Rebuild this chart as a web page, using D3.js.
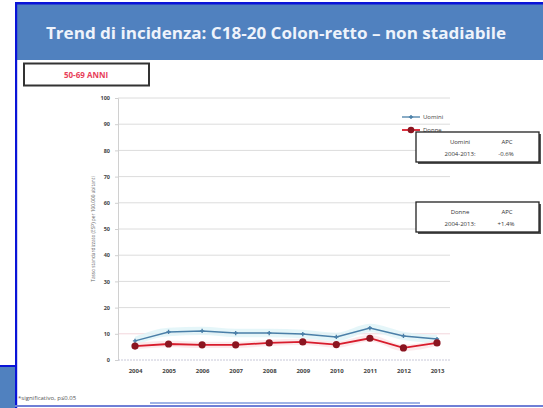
<!DOCTYPE html>
<html><head><meta charset="utf-8">
<script src="https://d3js.org/d3.v7.min.js"></script>
<style>html,body{margin:0;padding:0;background:#fff;}svg{display:block;}</style>
</head><body>
<svg id="c" width="543" height="408"></svg>
<script>
const years = ["2004","2005","2006","2007","2008","2009","2010","2011","2012","2013"];
const uomini = [7.3,10.7,11.1,10.3,10.3,9.9,8.8,12.2,9.2,8.0];
const donne  = [5.3,6.1,5.8,5.8,6.5,6.9,5.9,8.3,4.6,6.5];
const yTicks = [0,10,20,30,40,50,60,70,80,90,100];
const seriesNames = ["Uomini","Donne"];
const apcLabels = ["-0.6%","+1.4%"];

const svg = d3.select("#c");
const W = 543, H = 408;
const font = "'Open Sans', 'DejaVu Sans', sans-serif";

svg.append("rect").attr("x",0).attr("y",0).attr("width",W).attr("height",H).attr("fill","#fff");
svg.append("rect").attr("x",16).attr("y",4).attr("width",W-16).attr("height",56).attr("fill","#5081bf");
svg.append("rect").attr("x",15).attr("y",2).attr("width",W-15).attr("height",2.5).attr("fill","#0a14d8");
svg.append("text").attr("x",276).attr("y",39).attr("text-anchor","middle")
  .attr("fill","#eef3fb").attr("font-family",font).attr("font-weight","bold").attr("font-size",16)
  .attr("textLength",460).attr("lengthAdjust","spacingAndGlyphs")
  .text("Trend di incidenza: C18-20 Colon-retto – non stadiabile");
svg.append("rect").attr("x",0).attr("y",366).attr("width",15).attr("height",H-366).attr("fill","#5081bf");
svg.append("rect").attr("x",0).attr("y",365).attr("width",16).attr("height",2).attr("fill","#0a14d8");
svg.append("rect").attr("x",15).attr("y",2).attr("width",2.2).attr("height",H-2).attr("fill","#0a14d8");
svg.append("rect").attr("x",15).attr("y",405).attr("width",W-15).attr("height",2).attr("fill","#6f7fd6");
svg.append("line").attr("x1",150).attr("x2",420).attr("y1",403).attr("y2",403).attr("stroke","#9fb3e6").attr("stroke-width",2);

svg.append("rect").attr("x",24).attr("y",63.5).attr("width",125).attr("height",22).attr("fill","#fff").attr("stroke","#333").attr("stroke-width",2);
svg.append("text").attr("x",86).attr("y",78).attr("text-anchor","middle").attr("fill","#e8405a")
  .attr("font-family",font).attr("font-weight","bold").attr("font-size",8).text("50-69 ANNI");

const x = d3.scalePoint().domain(years).range([135,437]);
const y = d3.scaleLinear().domain([0,100]).range([360,98]);

const g = svg.append("g");
g.selectAll("line.grid").data(yTicks.filter(d=>d>0)).join("line").attr("class","grid")
  .attr("x1",118).attr("x2",450).attr("y1",d=>y(d)).attr("y2",d=>y(d))
  .attr("stroke",d=>d===10?"#f3d6dc":"#dcdcdc").attr("stroke-width",1);

const yAxis = d3.axisLeft(y).tickValues(yTicks).tickSize(3).tickFormat(d3.format("d"));
const ya = g.append("g").attr("transform","translate(118,0)").call(yAxis);
ya.select(".domain").attr("stroke","#d0d0d0");
ya.selectAll(".tick line").attr("stroke","#d0d0d0");
ya.selectAll(".tick text").attr("font-family",font).attr("font-size",5.5).attr("font-weight","bold").attr("fill","#444").attr("x",-8);

const xAxis = d3.axisBottom(x).tickSize(0).tickPadding(9);
const xa = g.append("g").attr("transform","translate(0,360)").call(xAxis);
xa.select(".domain").attr("d","M118,0H450").attr("stroke","#c8c8d8").attr("stroke-dasharray","2,1");
xa.selectAll(".tick text").attr("font-family",font).attr("font-size",6).attr("font-weight","bold").attr("fill","#444");

svg.append("text").attr("transform","translate(95,229) rotate(-90)").attr("text-anchor","middle")
  .attr("font-family",font).attr("font-size",4.8).attr("fill","#666")
  .text("Tasso standardizzato (ESP) per 100.000 abitanti");

const bandU = d3.area().x((d,i)=>x(years[i])).y0(d=>y(d-1.6)).y1(d=>y(d+1.6)).curve(d3.curveMonotoneX);
const bandD = d3.area().x((d,i)=>x(years[i])).y0(d=>y(d-1.2)).y1(d=>y(d+1.2)).curve(d3.curveMonotoneX);
g.append("path").datum(uomini).attr("d",bandU).attr("fill","#dff4f7").attr("opacity",0.8);
g.append("path").datum(donne).attr("d",bandD).attr("fill","#fbe3e6").attr("opacity",0.8);

const line = d3.line().x((d,i)=>x(years[i])).y(d=>y(d));
g.append("path").datum(uomini).attr("d",line).attr("fill","none").attr("stroke","#4a7fa8").attr("stroke-width",1.5);
g.selectAll("path.mu").data(uomini).join("path").attr("class","mu")
  .attr("d",d3.symbol(d3.symbolCross,10)).attr("transform",(d,i)=>`translate(${x(years[i])},${y(d)})`).attr("fill","#4a7fa8");
g.append("path").datum(donne).attr("d",line).attr("fill","none").attr("stroke","#d81c2c").attr("stroke-width",1.8);
g.selectAll("circle.md").data(donne).join("circle").attr("class","md")
  .attr("cx",(d,i)=>x(years[i])).attr("cy",d=>y(d)).attr("r",3.6).attr("fill","#8b1520");

const lg = svg.append("g");
lg.append("line").attr("x1",402).attr("x2",420).attr("y1",117).attr("y2",117).attr("stroke","#4a7fa8").attr("stroke-width",1.3);
lg.append("path").attr("d",d3.symbol(d3.symbolCross,10)).attr("transform","translate(411,117)").attr("fill","#4a7fa8");
lg.append("text").attr("x",423).attr("y",119).attr("font-family",font).attr("font-size",6).attr("fill","#444").text(seriesNames[0]);
lg.append("line").attr("x1",402).attr("x2",420).attr("y1",130).attr("y2",130).attr("stroke","#d81c2c").attr("stroke-width",1.8);
lg.append("circle").attr("cx",411).attr("cy",130).attr("r",3.3).attr("fill","#8b1520");
lg.append("text").attr("x",423).attr("y",132).attr("font-family",font).attr("font-size",6).attr("fill","#444").text(seriesNames[1]);

function apcBox(y0, name, val){
  const b = svg.append("g");
  b.append("rect").attr("x",418).attr("y",y0+2).attr("width",123).attr("height",30).attr("fill","#555");
  b.append("rect").attr("x",416).attr("y",y0).attr("width",123).attr("height",30).attr("fill","#fff").attr("stroke","#222").attr("stroke-width",1.3);
  const t = (xx,yy,s)=>b.append("text").attr("x",xx).attr("y",yy).attr("text-anchor","middle")
    .attr("font-family",font).attr("font-size",6).attr("fill","#333").text(s);
  t(460,y0+12,name); t(507,y0+12,"APC");
  t(460,y0+24,"2004-2013:"); t(506,y0+24,val);
}
apcBox(132, seriesNames[0], apcLabels[0]);
apcBox(202, seriesNames[1], apcLabels[1]);

svg.append("text").attr("x",18).attr("y",400).attr("font-family",font).attr("font-size",6).attr("fill","#555")
  .text("*significativo, p≤0.05");
</script>
</body></html>
